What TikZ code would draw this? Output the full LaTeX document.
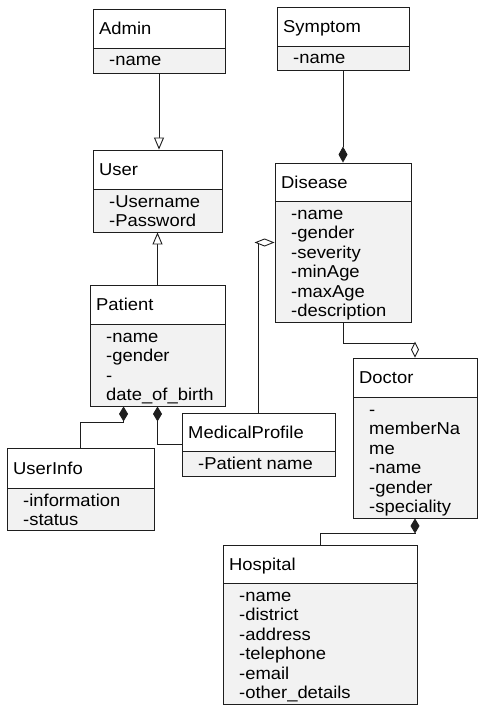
\documentclass[tikz,border=0pt]{standalone}
\usepackage{fontspec}
\setmainfont[FakeStretch=1.07]{Liberation Sans}
\usetikzlibrary{arrows.meta,fit}
\definecolor{bodyfill}{RGB}{242,242,242}
\definecolor{edgecol}{RGB}{30,30,30}
\newcommand\umlclass[8]{%
  \fill[bodyfill] (#2,#5) rectangle (#4,#6);
  \node[classframe, fit={(#2,#3) (#4,#6)}] (#1) {};
  \draw[edgecol, line width=0.9bp] (#2,#5) -- (#4,#5);
  \node[classtext] (#1-title) at ({#2+6},{(#3+#5)/2+6.3}) {#7};
  \node[classtext] (#1-attrs) at ({#2+16},{#5+18}) {\begin{tabular}[t]{@{}l@{}}#8\end{tabular}};
}
\begin{document}
\begin{tikzpicture}[x=1bp,y=-1bp,
  every node/.style={font=\fontsize{17.2bp}{19.5bp}\selectfont},
  classframe/.style={draw=edgecol, line width=0.9bp, inner sep=0pt},
  classtext/.style={anchor=base west, inner sep=0pt, text=black},
  conn/.style={draw=edgecol, line width=0.9bp},
  gentip/.style={-{Triangle[fill=white, length=12bp, width=10bp]}},
  comptip/.style={{Diamond[length=15bp, width=9bp]}-},
  comptipend/.style={-{Diamond[length=16bp, width=9bp]}},
  aggtip/.style={-{Diamond[fill=white, length=16bp, width=8bp]}},
  aggtipwide/.style={-{Diamond[fill=white, length=20bp, width=8bp]}}]
\useasboundingbox (0,0) rectangle (478,707);

\umlclass{admin}{93}{9}{225}{48}{73}{Admin}{-name}
\umlclass{symptom}{277}{7}{409}{46}{70}{Symptom}{-name}
\umlclass{user}{93}{150}{222}{189}{232}{User}{-Username\\-Password}
\umlclass{disease}{275}{163}{411}{201}{322}{Disease}{-name\\-gender\\-severity\\-minAge\\-maxAge\\-description}
\umlclass{patient}{90}{285}{225}{324}{406}{Patient}{-name\\-gender\\-\\date\_of\_birth}
\umlclass{medprof}{182}{413}{335}{451}{476}{MedicalProfile}{-Patient name}
\umlclass{userinfo}{7}{448}{154}{488}{530}{UserInfo}{-information\\-status}
\umlclass{doctor}{353}{358}{477}{397}{518}{Doctor}{-\\memberNa\\me\\-name\\-gender\\-speciality}
\umlclass{hospital}{223}{545}{417}{583}{704}{Hospital}{-name\\-district\\-address\\-telephone\\-email\\-other\_details}

% generalisations
\draw[conn, gentip] (admin.south) -- (admin.south |- user.north);
\draw[conn, gentip] (patient.north) -- (patient.north |- user.south);
% composition Symptom - Disease
\draw[conn, comptipend] (symptom.south) -- (disease.north);
% aggregation Disease - MedicalProfile
\draw[conn, aggtipwide] (medprof.north) |- (disease.west);
% aggregation Disease - Doctor
\draw[conn, aggtip] (disease.south) -- ++(0,21) coordinate (dd) -| (doctor.north);
% compositions from Patient
\path (patient.south west) ++(34,0) coordinate (pUI);
\draw[conn, comptip] (pUI) -- ++(0,16) -| (userinfo.north);
\draw[conn, comptip] (patient.south) |- (medprof.west);
% composition Doctor - Hospital
\draw[conn, comptip] (doctor.south) -- ++(0,15) -| (hospital.north);
\end{tikzpicture}
\end{document}
